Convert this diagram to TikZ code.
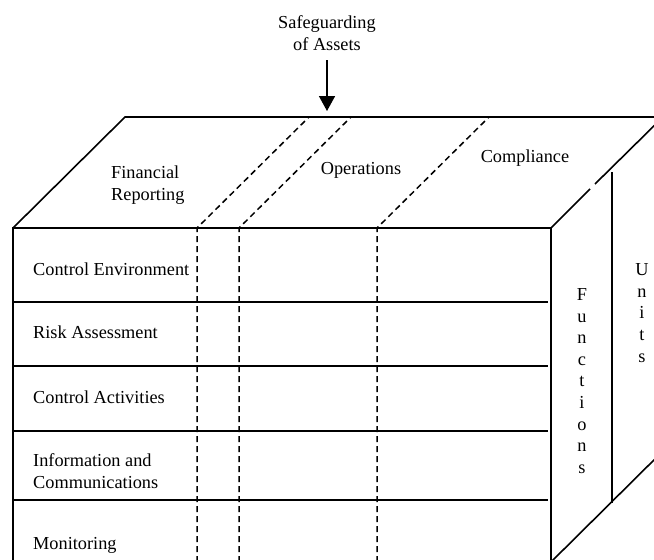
\documentclass[tikz,border=0pt]{standalone}
\usepackage{fontspec}
\setmainfont{Liberation Serif}
\usetikzlibrary{arrows.meta}
\begin{document}
\begin{tikzpicture}[x=1pt,y=-1pt,
  edge/.style={line width=1.6pt},
  rowline/.style={line width=1.3pt},
  dashline/.style={line width=1.5pt, dash pattern=on 6pt off 4pt},
  lbl/.style={font=\fontsize{18.3}{21.6}\selectfont, inner sep=0pt},
  arr/.style={line width=1.6pt, -{Triangle[width=16pt,length=15pt]}}]
\useasboundingbox (0,0) rectangle (654,560);
\clip (0,0) rectangle (654,560);
% corners
\coordinate (ftl) at (13,228);
\coordinate (ftr) at (551,228);
\coordinate (fbl) at (13,562);
\coordinate (fbr) at (551,562);
\coordinate (btl) at (125,117);
\coordinate (btr) at (663,117);
\coordinate (bbr) at (663,451);
\coordinate (gapa) at (590,189);
\coordinate (gapb) at (595,184);
% top face
\draw[edge] (ftl) -- (btl) -- (btr);
% front face
\draw[edge] (fbl) -- (ftl) -- (ftr) -- (fbr);
% right face
\draw[edge] (ftr) -- (gapa);
\draw[edge] (gapb) -- (btr);
\draw[edge] (fbr) -- (bbr);
\coordinate (ut) at (612,172);
\coordinate (ub) at (612,503);
\draw[edge] (ut) -- (ub);
% rows
\foreach \y/\n in {302/r1,366/r2,431/r3,500/r4}{
  \coordinate (\n a) at (13,\y);
  \coordinate (\n b) at (548,\y);
  \draw[rowline] (\n a) -- (\n b);
}
% dashed columns
\foreach \x/\n in {197/d1,239/d2,377/d3}{
  \coordinate (\n t) at (\x,228);
  \coordinate (\n b) at (\x,562);
  \coordinate (\n k) at (\x+112,117);
  \draw[dashline] (\n b) -- (\n t) -- (\n k);
}
% texts
\node[lbl, align=center] (safe) at (327,33) {Safeguarding\\of Assets};
\coordinate (astart) at (327,60);
\coordinate (aend) at (327,111);
\draw[arr] (astart) -- (aend);
\node[lbl, align=left, anchor=west] (fin) at (111,185) {Financial\\Reporting};
\node[lbl] (ops) at (361,170) {Operations};
\node[lbl] (comp) at (525,158) {Compliance};
\node[lbl, anchor=west] (ce) at (33,269) {Control Environment};
\node[lbl, anchor=west] (ra) at (33,332) {Risk Assessment};
\node[lbl, anchor=west] (ca) at (33,397) {Control Activities};
\node[lbl, anchor=west, align=left] (ic) at (33,471) {Information and\\Communications};
\node[lbl, anchor=west] (mo) at (33,545) {Monitoring};
\node[lbl, align=center] (fu) at (582,381) {F\\u\\n\\c\\t\\i\\o\\n\\s};
\node[lbl, align=center] (un) at (642,313) {U\\n\\i\\t\\s};
\end{tikzpicture}
\end{document}
